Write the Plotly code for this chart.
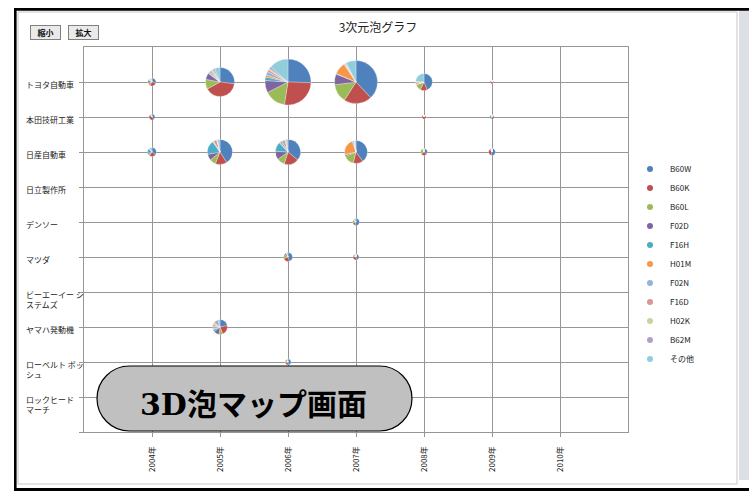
import math
import plotly.graph_objects as go

# ---------------- data ----------------
companies = ["トヨタ自動車", "本田技研工業", "日産自動車", "日立製作所", "デンソー", "マツダ",
             "ビーエーイー シ<br>ステムズ", "ヤマハ発動機", "ローベルト ボッ<br>シュ", "ロックヒード<br>マーチ"]
years = [2004, 2005, 2006, 2007, 2008, 2009, 2010]
year_labels = [f"{y}年" for y in years]
series = ["B60W", "B60K", "B60L", "F02D", "F16H", "H01M", "F02N", "F16D", "H02K", "B62M", "その他"]
series_colors = ["#4F81BD", "#C0504D", "#9BBB59", "#8064A2", "#4BACC6", "#F79646",
                 "#95B3D7", "#D99694", "#C3D69B", "#B2A1C7", "#92CDDC"]

# one entry per bubble (company index, year, total count, shares per series)
bubble_company = [0, 0, 0, 0, 0, 0,
                  1, 1, 1,
                  2, 2, 2, 2, 2, 2,
                  4, 5, 5, 7, 8]
bubble_year = [2004, 2005, 2006, 2007, 2008, 2009,
               2004, 2008, 2009,
               2004, 2005, 2006, 2007, 2008, 2009,
               2007, 2006, 2007, 2005, 2006]
bubble_total = [16, 211, 530, 463, 72, 3,
                9, 4, 5,
                20, 157, 157, 132, 12, 12,
                12, 20, 9, 56, 9]
bubble_shares = [
    [30, 30, 12, 10, 3, 3, 3, 3, 2, 2, 2],
    [27, 40, 11, 7, 1, 1, 2, 1, 2, 2, 6],
    [25.5, 27, 15, 8.5, 2.5, 1.5, 2.5, 1.5, 1, 1.5, 13.5],
    [38, 21, 14, 8, 0.5, 9, 0.5, 0.5, 0.5, 0.5, 7.5],
    [44, 13, 12, 1, 0, 3, 1, 2, 0, 0, 24],
    [30, 70, 0, 0, 0, 0, 0, 0, 0, 0, 0],
    [40, 45, 5, 5, 0, 0, 0, 0, 0, 0, 5],
    [10, 90, 0, 0, 0, 0, 0, 0, 0, 0, 0],
    [20, 40, 0, 0, 40, 0, 0, 0, 0, 0, 0],
    [35, 25, 5, 5, 20, 0, 0, 0, 0, 0, 10],
    [41, 15, 8, 8, 18, 0.5, 1, 4, 1, 0.5, 3],
    [36, 19, 10, 11, 12, 1, 3, 4, 1, 1, 2],
    [40, 14, 15, 2, 0.5, 23, 2, 1, 0.5, 0.5, 1.5],
    [35, 30, 30, 0, 0, 5, 0, 0, 0, 0, 0],
    [55, 35, 0, 5, 5, 0, 0, 0, 0, 0, 0],
    [55, 15, 15, 0, 5, 0, 0, 0, 0, 0, 10],
    [45, 25, 15, 10, 0, 0, 0, 0, 0, 0, 5],
    [45, 35, 5, 0, 5, 10, 0, 0, 0, 0, 0],
    [22, 22, 8, 12, 5, 2, 6, 4, 5, 9, 5],
    [50, 20, 15, 0, 10, 0, 0, 0, 0, 0, 5],
]

# ---------------- geometry / style ----------------
W, H = 749, 491
ML, MR, MT, MB = 84, 121, 47, 59
PW, PH = W - ML - MR, H - MT - MB
X_RANGE = (2003, 2011)
Y_RANGE = (-1, 10)       # category index, top to bottom
R_MAX = 23               # px radius of largest bubble
GRID = "#969696"


def xfrac(v):
    return (v - X_RANGE[0]) / (X_RANGE[1] - X_RANGE[0])


def yfrac(v):
    return 1 - (v - Y_RANGE[0]) / (Y_RANGE[1] - Y_RANGE[0])


def px2x(px):
    return (px - ML) / PW


def py2y(py):
    return (H - MB - py) / PH


fig = go.Figure()

max_total = max(bubble_total)
for ci, yr, tot, shares in zip(bubble_company, bubble_year, bubble_total, bubble_shares):
    r = R_MAX * math.sqrt(tot / max_total)
    cx, cy = xfrac(yr), yfrac(ci)
    dx, dy = r / PW, r / PH
    fig.add_trace(go.Pie(
        labels=series, values=shares,
        marker=dict(colors=series_colors, line=dict(color="rgba(255,255,255,0.7)", width=0.4)),
        domain=dict(x=[cx - dx, cx + dx], y=[cy - dy, cy + dy]),
        sort=False, direction="clockwise", rotation=0,
        textinfo="none", showlegend=False, hoverinfo="label+value",
    ))

for name, col in zip(series, series_colors):
    fig.add_trace(go.Scatter(x=[None], y=[None], mode="markers", name=name,
                             marker=dict(color=col, size=6, symbol="circle")))

# company labels (left aligned, as in the original)
annotations = []
for i, name in enumerate(companies):
    multi = "<br>" in name
    annotations.append(dict(
        x=px2x(24), xref="paper", y=i, yref="y", text=name, showarrow=False,
        xanchor="left", yanchor="top" if multi else "middle",
        yshift=5 if multi else -2, align="left",
        font=dict(size=8, color="#222222"),
    ))

# buttons
for label, cxp in (("縮小", 45), ("拡大", 83.5)):
    annotations.append(dict(
        x=px2x(cxp), xref="paper", y=py2y(32.5), yref="paper", text="<b>" + label + "</b>",
        showarrow=False, xanchor="center", yanchor="middle",
        width=27, height=11, bgcolor="#EAEAEA", bordercolor="#808080", borderwidth=1,
        borderpad=1, font=dict(size=8, color="#111111"),
    ))

# overlay caption
annotations.append(dict(
    x=px2x(253), xref="paper", y=py2y(404), yref="paper", text="<b>3D泡マップ画面</b>",
    showarrow=False, xanchor="center", yanchor="middle",
    font=dict(size=30, color="#000000", family="DejaVu Serif, Noto Sans CJK JP"),
))

# rounded overlay shape (pixel-sized path)
hw, hh = 125, 32.5
k = 0.5523 * hh
path = (f"M {-hw},{hh} L {hw},{hh} "
        f"C {hw + k},{hh} {hw + hh},{k} {hw + hh},0 "
        f"C {hw + hh},{-k} {hw + k},{-hh} {hw},{-hh} "
        f"L {-hw},{-hh} "
        f"C {-hw - k},{-hh} {-hw - hh},{-k} {-hw - hh},0 "
        f"C {-hw - hh},{k} {-hw - k},{hh} {-hw},{hh} Z")

shapes = [
    dict(type="path", path=path, xref="paper", yref="paper",
         xsizemode="pixel", ysizemode="pixel",
         xanchor=px2x(254.5), yanchor=py2y(398.5),
         fillcolor="#C0C0C0", line=dict(color="#000000", width=1.2), layer="above"),
    # window frame
    dict(type="rect", xref="paper", yref="paper", x0=px2x(18), x1=px2x(737), y0=py2y(12), y1=py2y(484),
         line=dict(color="#C8C8C8", width=1), fillcolor="rgba(0,0,0,0)", layer="below"),
    dict(type="rect", xref="paper", yref="paper", x0=px2x(739), x1=px2x(749), y0=py2y(10.5), y1=py2y(480),
         line=dict(width=0), fillcolor="#DCDFE3", layer="below"),
    dict(type="rect", xref="paper", yref="paper", x0=px2x(14), x1=px2x(749), y0=py2y(8), y1=py2y(10.8),
         line=dict(width=0), fillcolor="#000000", layer="above"),
    dict(type="rect", xref="paper", yref="paper", x0=px2x(14), x1=px2x(16.6), y0=py2y(8), y1=py2y(491),
         line=dict(width=0), fillcolor="#000000", layer="above"),
    dict(type="rect", xref="paper", yref="paper", x0=px2x(14), x1=px2x(749), y0=py2y(488), y1=py2y(491),
         line=dict(width=0), fillcolor="#000000", layer="above"),
]

fig.update_layout(
    width=W, height=H,
    margin=dict(l=ML, r=MR, t=MT, b=MB, pad=0),
    paper_bgcolor="white", plot_bgcolor="white",
    font=dict(family="Noto Sans CJK JP, sans-serif", size=8, color="#222222"),
    title=dict(text="3次元泡グラフ", x=378 / W, xref="container", xanchor="center",
               y=1 - 28 / H, yref="container", yanchor="middle",
               font=dict(size=12, color="#222222")),
    showlegend=True,
    legend=dict(x=px2x(630), xanchor="left", y=py2y(264), yanchor="middle",
                font=dict(size=8, color="#222222"), bgcolor="rgba(0,0,0,0)",
                itemsizing="trace", tracegroupgap=0),
    annotations=annotations,
    shapes=shapes,
)

fig.update_xaxes(range=list(X_RANGE), tickvals=years, ticktext=year_labels, tickangle=-90,
                 showgrid=True, gridcolor=GRID, gridwidth=1, zeroline=False,
                 showline=True, mirror=True, linecolor=GRID, linewidth=1,
                 ticks="outside", ticklen=4, tickcolor=GRID, ticklabelstandoff=6,
                 tickfont=dict(size=8, color="#222222"), fixedrange=True)
fig.update_yaxes(range=[Y_RANGE[1], Y_RANGE[0]], tickvals=list(range(0, 11)),
                 showticklabels=False,
                 showgrid=True, gridcolor=GRID, gridwidth=1, zeroline=False,
                 showline=True, mirror=True, linecolor=GRID, linewidth=1,
                 ticks="outside", ticklen=4, tickcolor=GRID, fixedrange=True)

fig.write_html("out.html")
